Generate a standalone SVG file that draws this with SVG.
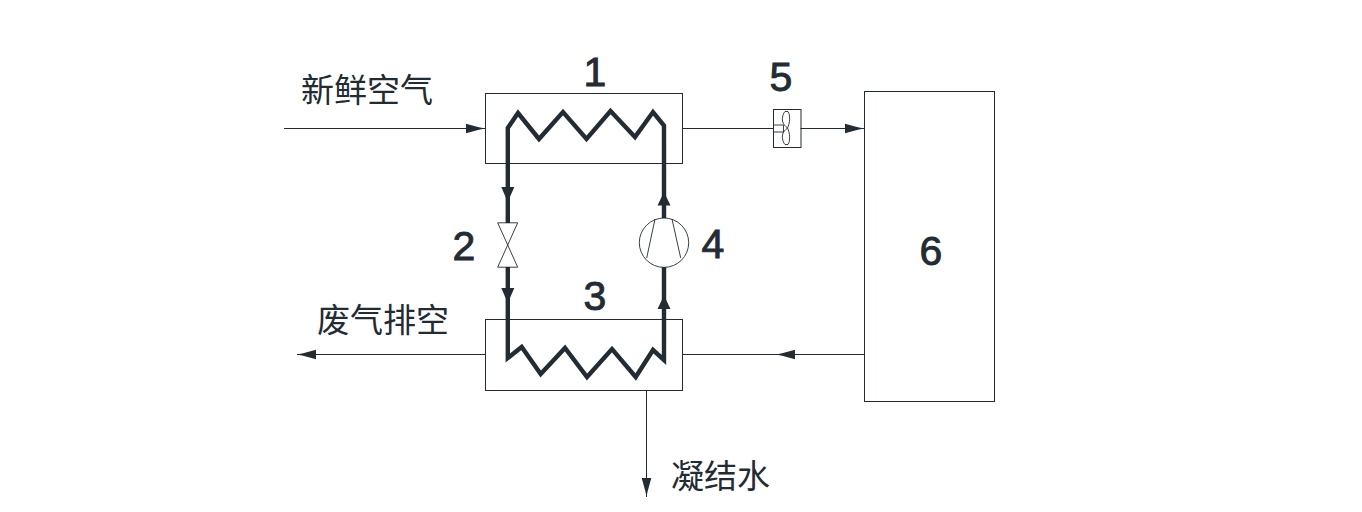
<svg xmlns="http://www.w3.org/2000/svg" width="1362" height="512" viewBox="0 0 1362 512">
<style>
.box{fill:none;stroke:#232b33;stroke-width:1}
.thin{fill:none;stroke:#232b33;stroke-width:1}
.fine{fill:none;stroke:#232b33;stroke-width:.9}
.pipe{fill:none;stroke:#232b33;stroke-width:4.400;stroke-linejoin:miter}
.head{fill:#232b33;stroke:none}
.cn{font-family:"Noto Sans CJK SC","Noto Sans CJK JP",sans-serif;font-size:33px;font-weight:400;fill:#232b33}
.num{font-family:"Liberation Sans",Arial,sans-serif;font-size:41px;fill:#232b33;stroke:#232b33;stroke-width:.9;text-anchor:middle}
</style>
<defs>
<path id="thinHead" class="head" d="M0 0L-6 -1.200L-8 -1.800L-19 -4.800V4.800L-8 1.800L-6 1.200Z"/>
<path id="pipeHead" class="head" d="M0 0L-6.500 -15H6.500Z"/>
</defs>
<rect width="1362" height="512" fill="#fff"/>
<g id="connectors">
<path class="thin" d="M284 128.500H485"/><use href="#thinHead" transform="translate(485 128.500)"/>
<path class="thin" d="M682.500 128.500H773.500M800.500 128.500H864"/><use href="#thinHead" transform="translate(864 128.500)"/>
<path class="thin" d="M864 354.500H682.500"/><use href="#thinHead" transform="translate(776 354.500) rotate(180)"/>
<path class="thin" d="M485 354.500H297"/><use href="#thinHead" transform="translate(297 354.500) rotate(180)"/>
<path class="thin" d="M646.500 390.500V497"/><use href="#thinHead" transform="translate(646.500 497) rotate(90)"/>
<path class="pipe" d="M507.800 223V128L518 113L539 139L563 112L586.500 139L610.500 111L635 137L653 112L664 125.500V218"/>
<path class="pipe" d="M507.800 267V358L521.700 347L540.700 374L565 348L587 377L612 349L635.700 377L653 350L664 360V267"/>
<use href="#pipeHead" transform="translate(507.800 202)"/>
<use href="#pipeHead" transform="translate(507.800 303)"/>
<path class="head" d="M664 192L670.500 205.500H657.500Z"/>
<path class="head" d="M664 295.500L670.500 309H657.500Z"/>
</g>
<g id="node-1"><rect class="box" x="485.500" y="93.500" width="197" height="70"/><text class="num" x="595" y="86">1</text></g>
<g id="node-2"><path class="fine" d="M497.700 222.800H517.700L497.700 267.200H517.700Z"/><text class="num" x="464" y="260">2</text></g>
<g id="node-3"><rect class="box" x="485.500" y="319.500" width="197" height="71"/><text class="num" x="595" y="310">3</text></g>
<g id="node-4"><circle class="fine" cx="664" cy="242.700" r="24.700"/><path class="fine" d="M655 219L646.700 258M672 219L680.700 258"/><text class="num" x="713" y="258">4</text></g>
<g id="node-5"><rect class="box" x="773.500" y="109.500" width="27.500" height="38"/><path class="fine" d="M773.500 125H783.500V132H773.500"/><path class="fine" d="M787.500 128C790 123 790.500 115 788 111.500H785C783 113 782 118 782.500 121C783 124 785 126 787.500 128C790 133 790.500 141 788 144.500H785C783 143 782 138 782.500 135C783 132 785 130 787.500 128Z"/><text class="num" x="781" y="91">5</text></g>
<g id="node-6"><rect class="box" x="864.500" y="91.500" width="130" height="310"/><text class="num" x="931" y="265">6</text></g>
<text class="cn" x="301" y="102">新鲜空气</text>
<text class="cn" x="317" y="332">废气排空</text>
<text class="cn" x="671" y="488">凝结水</text>
</svg>
